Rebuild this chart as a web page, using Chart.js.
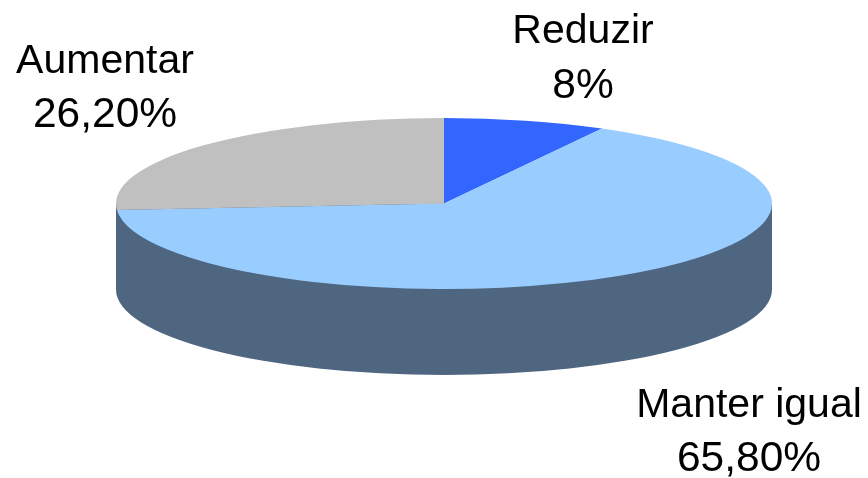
<!DOCTYPE html>
<html><head><meta charset="utf-8">
<style>html,body{margin:0;padding:0;background:#fff}canvas{display:block}</style>
<script src="https://cdn.jsdelivr.net/npm/chart.js@4"></script>
</head><body>
<div style="width:868px;height:478px;position:relative"><canvas id="c"></canvas></div>
<script>
const categories = ["Reduzir", "Manter igual", "Aumentar"];
const values = [8, 65.8, 26.2];
const valueLabels = ["8%", "65,80%", "26,20%"];
const colors = ["#3366FF", "#99CCFF", "#C0C0C0"];
const sideColor = "#4F6680";
const labelPos = [[583, 43, 98], [749, 417, 471], [105, 73, 127]];
const squash = 85.5 / 328, depth = 86, cyTarget = 203.5;

const tilt = {
  id: "tilt",
  beforeDatasetsDraw(chart) {
    const a = chart.getDatasetMeta(0).data[0];
    const ctx = chart.ctx, r = a.outerRadius, ry = r * squash;
    ctx.save();
    ctx.fillStyle = sideColor;
    ctx.beginPath();
    ctx.ellipse(a.x, cyTarget + depth, r, ry, 0, 0, Math.PI);
    ctx.lineTo(a.x - r, cyTarget);
    ctx.lineTo(a.x + r, cyTarget);
    ctx.closePath();
    ctx.fill();
    ctx.restore();
    ctx.save();
    ctx.translate(0, cyTarget);
    ctx.scale(1, squash);
    ctx.translate(0, -a.y);
  },
  afterDatasetsDraw(chart) {
    const ctx = chart.ctx;
    ctx.restore();
    ctx.save();
    ctx.fillStyle = "#000";
    ctx.textAlign = "center";
    ctx.textBaseline = "alphabetic";
    categories.forEach((c, i) => {
      const [x, y1, y2] = labelPos[i];
      ctx.font = '41px "Liberation Sans", Arial, sans-serif';
      ctx.fillText(c, x, y1);
      ctx.font = '42.5px "Liberation Sans", Arial, sans-serif';
      ctx.fillText(valueLabels[i], x, y2);
    });
    ctx.restore();
  }
};

new Chart(document.getElementById("c"), {
  type: "pie",
  data: { labels: categories, datasets: [{ data: values, backgroundColor: colors, borderWidth: 0 }] },
  options: {
    responsive: true, maintainAspectRatio: false, animation: false,
    radius: 328,
    layout: { padding: { left: 20 } },
    plugins: { legend: { display: false }, tooltip: { enabled: false } }
  },
  plugins: [tilt]
});
</script>
</body></html>
